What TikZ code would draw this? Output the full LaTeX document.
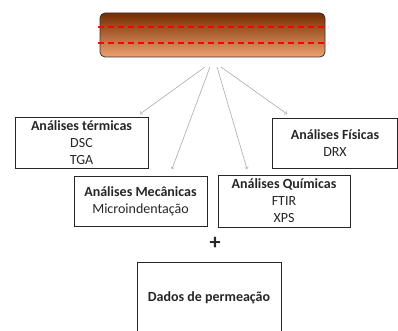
\documentclass[tikz,border=0pt]{standalone}
\usepackage{fontspec}
\setmainfont{Carlito}
\usetikzlibrary{arrows}
\definecolor{bar_top}{RGB}{118, 44, 0}
\definecolor{bar_mid}{RGB}{190, 92, 40}
\definecolor{bar_bot}{RGB}{238, 162, 112}
\definecolor{arr_gray}{RGB}{170, 170, 170}
\tikzstyle{bx}=[rectangle,draw=black!85,line width=0.9pt,align=center,
  font=\fontsize{14}{17}\selectfont,text=black!85]
\tikzstyle{bar}=[rectangle,rounded corners=5pt,draw=black!80,line width=0.8pt,
  top color=bar_top,middle color=bar_mid,bottom color=bar_bot,
  minimum width=225pt,minimum height=44pt]
\tikzstyle{cut}=[red,line width=1.4pt,dash pattern=on 6pt off 4pt]
\tikzstyle{arr}=[->,draw=arr_gray,line width=0.6pt]
\tikzstyle{none}=[inner sep=0pt]

\begin{document}
\begin{tikzpicture}[x=1pt, y=-1pt]
    \clip (0, 0) rectangle (398, 331);
            \node [style=bar] (0) at (212.5, 35) {};
            \draw [style=cut] (98, 27) -- (328, 27);
            \draw [style=cut] (98, 43) -- (328, 43);
            \node [style=bx, minimum width=133pt, minimum height=50pt] (1) at (81.5, 143)
              {\textbf{Análises térmicas}\\DSC\\TGA};
            \node [style=bx, minimum width=133pt, minimum height=50pt] (2) at (140.5, 201)
              {\textbf{Análises Mecânicas}\\Microindentação};
            \node [style=bx, minimum width=132pt, minimum height=52pt] (3) at (284, 201)
              {\textbf{Análises Químicas}\\FTIR\\XPS};
            \node [style=bx, minimum width=125pt, minimum height=50pt] (4) at (335, 143)
              {\textbf{Análises Físicas}\\DRX};
            \node [font=\fontsize{22}{22}\selectfont\bfseries, text=black!85] (5) at (215, 243) {+};
            \node [style=bx, minimum width=144pt, minimum height=72pt] (6) at (209, 298)
              {\textbf{Dados de permeação}};
            \node [style=none] (7) at (205, 67) {};
            \node [style=none] (8) at (210, 67) {};
            \node [style=none] (9) at (217, 67) {};
            \node [style=none] (10) at (221, 67) {};
            \node [style=none] (11) at (140, 114) {};
            \node [style=none] (12) at (172, 169) {};
            \node [style=none] (13) at (247, 169) {};
            \node [style=none] (14) at (287, 114) {};
            \draw [style=arr] (7.center) to (11.center);
            \draw [style=arr] (8.center) to (12.center);
            \draw [style=arr] (9.center) to (13.center);
            \draw [style=arr] (10.center) to (14.center);
    \end{tikzpicture}
\end{document}
